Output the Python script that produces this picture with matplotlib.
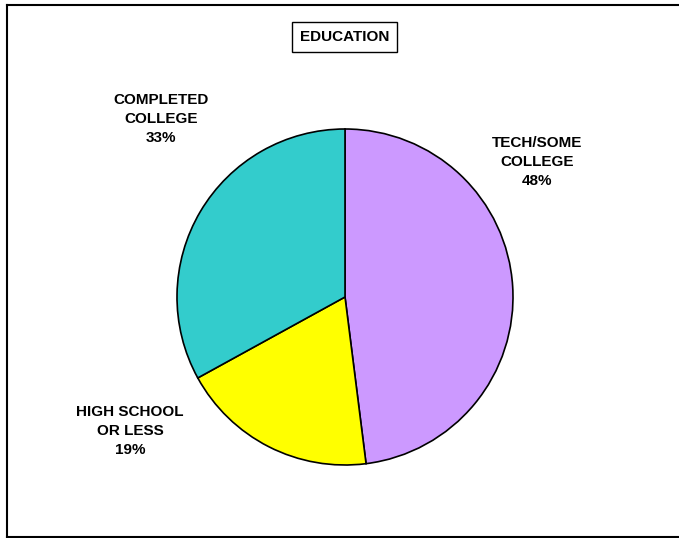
import matplotlib.pyplot as plt
from matplotlib.lines import Line2D

categories = ["TECH/SOME\nCOLLEGE", "HIGH SCHOOL\nOR LESS", "COMPLETED\nCOLLEGE"]
shares = [48, 19, 33]
colors = ["#CC99FF", "#FFFF00", "#33CCCC"]
# label anchor points in pixels (x from left, y from top)
label_pos = [(537, 162), (130, 431), (161, 119)]

W, H = 679, 538

plt.rcParams["font.family"] = ["Liberation Sans", "DejaVu Sans"]

fig = plt.figure(figsize=(W / 100, H / 100), dpi=100)
ax = fig.add_axes([0, 0, 1, 1])

ax.pie(shares, colors=colors, startangle=90, counterclock=False,
       center=(345, H - 297), radius=168, frame=True,
       wedgeprops=dict(edgecolor="black", linewidth=1.2))
ax.set_xlim(0, W)
ax.set_ylim(0, H)
ax.set_aspect("equal")
ax.axis("off")

for cat, val, (x, y) in zip(categories, shares, label_pos):
    ax.text(x, H - y, f"{cat}\n{val}%", ha="center", va="center",
            fontsize=11, fontweight="bold", linespacing=1.45)

ax.text(344.5, H - 37, "EDUCATION", ha="center", va="center",
        fontsize=11, fontweight="bold",
        bbox=dict(boxstyle="square,pad=0.5", facecolor="white",
                  edgecolor="black", linewidth=1))

# outer frame (right edge falls outside the image)
fig.add_artist(Line2D([6.5 / W, 6.5 / W], [1 - 4.5 / H, 1 - 536.5 / H],
                      transform=fig.transFigure, color="black", lw=1.5))
fig.add_artist(Line2D([6.5 / W, 1], [1 - 4.5 / H, 1 - 4.5 / H],
                      transform=fig.transFigure, color="black", lw=1.5))
fig.add_artist(Line2D([6.5 / W, 1], [1 - 536.5 / H, 1 - 536.5 / H],
                      transform=fig.transFigure, color="black", lw=1.5))

fig.savefig("out.png", dpi=100)
